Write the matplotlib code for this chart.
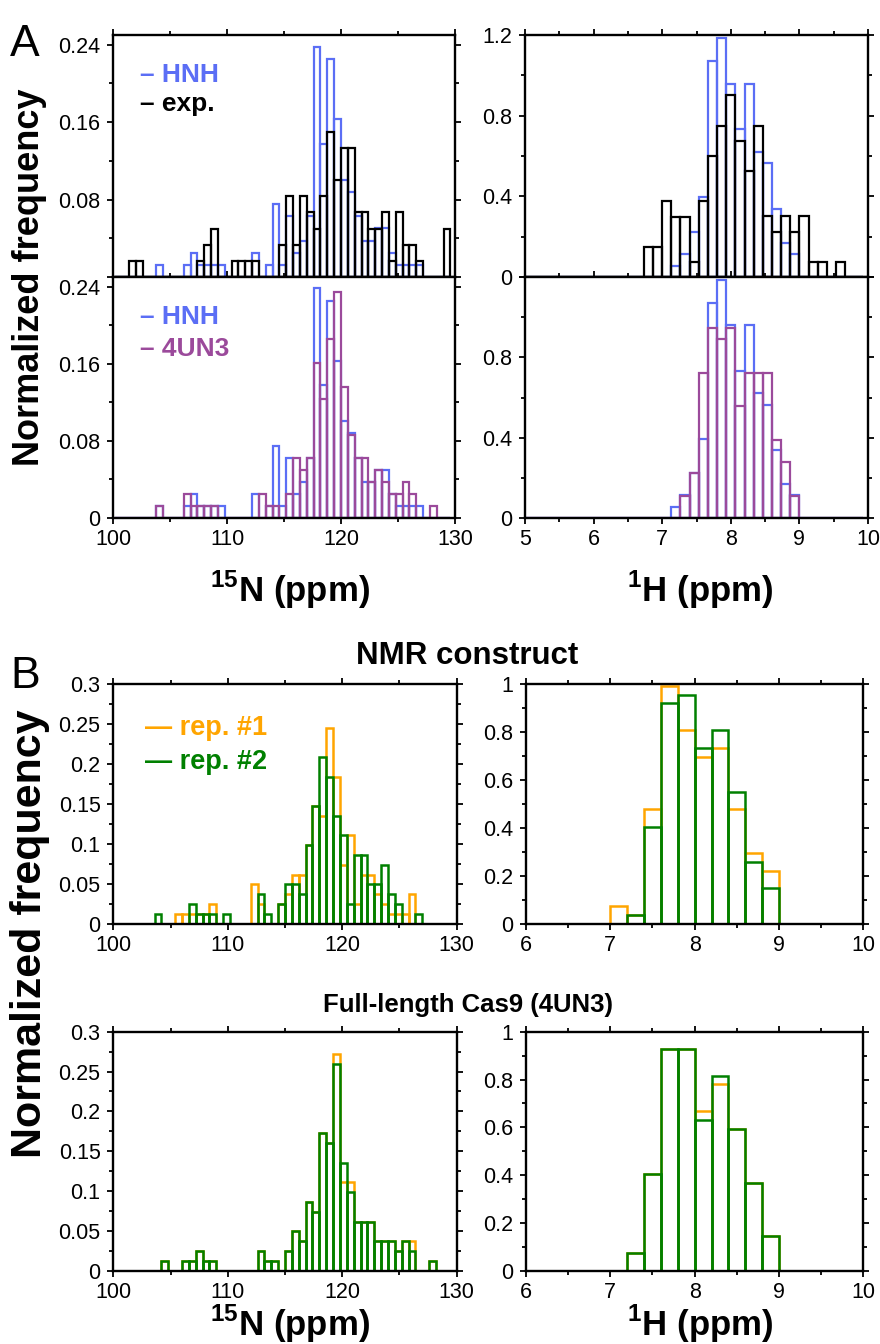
import matplotlib
matplotlib.use("Agg")
import matplotlib.pyplot as plt
from matplotlib.ticker import MultipleLocator, FuncFormatter
import numpy as np

plt.rcParams['font.family'] = ['Liberation Sans', 'DejaVu Sans']
plt.rcParams['mathtext.fontset'] = 'custom'
plt.rcParams['mathtext.rm'] = 'Liberation Sans:bold'
plt.rcParams['mathtext.bf'] = 'Liberation Sans:bold'

# ---- panel A: counts per bin (15N bins of 0.6 ppm from 100.2, 1H bins of 2/15 ppm from 5)
a_n_edges = 100.2 + 0.6 * np.arange(50)
a_h_edges = 5 + np.arange(38) * 2 / 15

hnh_n = [0, 0, 0, 0, 0, 0, 1, 0, 0, 0,
         1, 2, 1, 1, 1, 1, 0, 0, 0, 0,
         2, 0, 1, 6, 1, 5, 2, 3, 5, 19,
         11, 18, 13, 8, 7, 5, 3, 3, 4, 4,
         2, 1, 1, 1, 1, 0, 0, 0, 0]
exp_n = [0, 0, 1, 1, 0, 0, 0, 0, 0, 0,
         0, 0, 1, 2, 3, 0, 0, 1, 1, 1,
         1, 0, 0, 0, 2, 5, 2, 5, 4, 3,
         5, 9, 6, 8, 8, 4, 4, 3, 3, 4,
         1, 4, 2, 2, 1, 0, 0, 0, 3]
un3_n = [0, 0, 0, 0, 0, 0, 1, 0, 0, 0,
         2, 1, 1, 1, 1, 0, 0, 0, 0, 0,
         0, 2, 1, 1, 0, 2, 5, 4, 5, 13,
         10, 15, 19, 11, 7, 5, 5, 3, 4, 3,
         2, 2, 3, 2, 0, 0, 1, 0, 0]

hnh_h = [0, 0, 0, 0, 0, 0, 0, 0, 0, 0, 0, 0, 0, 0, 0, 0,
         1, 2, 4, 7, 19, 21, 17, 13, 17, 11, 10, 6, 3, 2,
         0, 0, 0, 0, 0, 0, 0]
exp_h = [0, 0, 0, 0, 0, 0, 0, 0, 0, 0, 0, 0, 0,
         2, 2, 5, 4, 4, 1, 5, 8, 10, 12, 9, 7, 10, 4, 3, 4, 3, 4, 1, 1, 0, 1,
         0, 0]
un3_h = [0, 0, 0, 0, 0, 0, 0, 0, 0, 0, 0, 0, 0, 0, 0, 0, 0,
         2, 4, 13, 17, 16, 17, 10, 13, 13, 13, 7, 5, 2,
         0, 0, 0, 0, 0, 0, 0]

n_hnh, n_exp, n_un3 = 133, 100, 135

# ---- panel B: two replicas, 15N bins of 0.6 ppm from 100, 1H bins of 0.2 ppm from 6
b_n_edges = 100 + 0.6 * np.arange(51)
b_h_edges = 6 + 0.2 * np.arange(21)

rep1_nmr_n = [0, 0, 0, 0, 0, 0, 0, 0, 0, 1,
              1, 1, 1, 1, 2, 0, 0, 0, 0, 0,
              4, 2, 0, 0, 2, 3, 5, 5, 8, 12,
              11, 20, 15, 6, 9, 2, 5, 5, 3, 2,
              1, 1, 1, 3, 0, 0, 0, 0, 0, 0]
rep2_nmr_n = [0, 0, 0, 0, 0, 0, 1, 0, 0, 0,
              0, 2, 1, 1, 1, 0, 1, 0, 0, 0,
              0, 3, 1, 0, 2, 4, 4, 3, 8, 12,
              17, 15, 11, 9, 2, 7, 7, 4, 4, 6,
              3, 2, 0, 0, 1, 0, 0, 0, 0, 0]
rep1_full_n = [0, 0, 0, 0, 0, 0, 0, 1, 0, 0,
               1, 1, 2, 1, 1, 0, 0, 0, 0, 0,
               0, 2, 1, 1, 0, 2, 4, 3, 7, 6,
               14, 13, 22, 9, 9, 5, 5, 5, 3, 3,
               3, 2, 3, 3, 0, 0, 1, 0, 0, 0]
rep2_full_n = [0, 0, 0, 0, 0, 0, 0, 1, 0, 0,
               1, 1, 2, 1, 1, 0, 0, 0, 0, 0,
               0, 2, 1, 1, 0, 2, 4, 3, 7, 6,
               14, 13, 21, 11, 8, 5, 5, 5, 3, 3,
               3, 2, 3, 2, 0, 0, 1, 0, 0, 0]
n_nmr, n_full = 136, 135

rep1_nmr_h = [0, 0, 0, 0, 0, 0.075, 0.035, 0.476, 0.99, 0.807,
              0.694, 0.732, 0.476, 0.293, 0.22, 0, 0, 0, 0, 0]
rep2_nmr_h = [0, 0, 0, 0, 0, 0, 0.035, 0.403, 0.92, 0.955,
              0.732, 0.807, 0.549, 0.256, 0.148, 0, 0, 0, 0, 0]
rep1_full_h = [0, 0, 0, 0, 0, 0, 0.073, 0.404, 0.926, 0.926,
               0.668, 0.78, 0.593, 0.368, 0.145, 0, 0, 0, 0, 0]
rep2_full_h = [0, 0, 0, 0, 0, 0, 0.073, 0.404, 0.926, 0.926,
               0.63, 0.816, 0.593, 0.368, 0.145, 0, 0, 0, 0, 0]

blue = '#5b6ef5'
purple = '#9b4a9b'
orange = '#ffa500'
green = '#008000'

W, H = 880, 1344


def box(x0, y0, x1, y1):
    # pixel box (top-left origin) -> figure rect
    return [x0 / W, 1 - y1 / H, (x1 - x0) / W, (y1 - y0) / H]


def ftext(x, y, s, **kw):
    fig.text(x / W, 1 - y / H, s, **kw)


def fmt(skip=None):
    def f(v, pos):
        if skip is not None and abs(v - skip) < 1e-9:
            return ''
        return '%g' % round(v, 6)
    return FuncFormatter(f)


def freq(counts, n, edges):
    return np.array(counts) / (n * np.diff(edges))


def hist(ax, edges, heights, color, lw):
    ax.bar(edges[:-1], heights, width=np.diff(edges), align='edge',
           fill=False, edgecolor=color, linewidth=lw)


def style(ax, xlim, xstep, ylim, ystep, xlabels=True, yskip=None):
    ax.set_xlim(*xlim)
    ax.set_ylim(*ylim)
    ax.xaxis.set_major_locator(MultipleLocator(xstep))
    ax.xaxis.set_minor_locator(MultipleLocator(xstep / 2))
    ax.yaxis.set_major_locator(MultipleLocator(ystep))
    ax.yaxis.set_minor_locator(MultipleLocator(ystep / 2))
    ax.xaxis.set_major_formatter(fmt())
    ax.yaxis.set_major_formatter(fmt(yskip))
    ax.tick_params(which='both', direction='out', top=True, right=True,
                   width=1.3, labelsize=15.5)
    ax.tick_params(which='major', length=4.2)
    ax.tick_params(which='minor', length=3.2)
    ax.tick_params(axis='y', pad=5)
    ax.tick_params(axis='x', pad=4, labelbottom=xlabels)
    for s in ax.spines.values():
        s.set_linewidth(1.7)


fig = plt.figure(figsize=(W / 100, H / 100), dpi=100)

# ---------------- A
ax1 = fig.add_axes(box(113, 35, 455, 277))
hist(ax1, a_n_edges, freq(hnh_n, n_hnh, a_n_edges), blue, 1.6)
hist(ax1, a_n_edges, freq(exp_n, n_exp, a_n_edges), 'black', 1.6)
style(ax1, (100, 130), 10, (0, 0.25), 0.08, xlabels=False, yskip=0)

ax2 = fig.add_axes(box(113, 277, 455, 518))
hist(ax2, a_n_edges, freq(hnh_n, n_hnh, a_n_edges), blue, 1.6)
hist(ax2, a_n_edges, freq(un3_n, n_un3, a_n_edges), purple, 1.6)
style(ax2, (100, 130), 10, (0, 0.25), 0.08)

ax3 = fig.add_axes(box(525, 35, 868, 277))
hist(ax3, a_h_edges, freq(hnh_h, n_hnh, a_h_edges), blue, 1.6)
hist(ax3, a_h_edges, freq(exp_h, n_exp, a_h_edges), 'black', 1.6)
style(ax3, (5, 10), 1, (0, 1.2), 0.4, xlabels=False)

ax4 = fig.add_axes(box(525, 277, 868, 518))
hist(ax4, a_h_edges, freq(hnh_h, n_hnh, a_h_edges), blue, 1.6)
hist(ax4, a_h_edges, freq(un3_h, n_un3, a_h_edges), purple, 1.6)
style(ax4, (5, 10), 1, (0, 1.2), 0.4, yskip=1.2)

ftext(140, 82, '– HNH', color=blue, fontsize=19, fontweight='bold')
ftext(140, 111, '– exp.', color='black', fontsize=19, fontweight='bold')
ftext(140, 324, '– HNH', color=blue, fontsize=19, fontweight='bold')
ftext(140, 356, '– 4UN3', color=purple, fontsize=19, fontweight='bold')

# ---------------- B
bx1 = fig.add_axes(box(113.3, 684, 456.7, 923.5))
hist(bx1, b_n_edges, freq(rep1_nmr_n, n_nmr, b_n_edges), orange, 1.8)
hist(bx1, b_n_edges, freq(rep2_nmr_n, n_nmr, b_n_edges), green, 1.8)
style(bx1, (100, 130), 10, (0, 0.3), 0.05)

bx2 = fig.add_axes(box(526, 684, 863.3, 923.5))
hist(bx2, b_h_edges, rep1_nmr_h, orange, 1.8)
hist(bx2, b_h_edges, rep2_nmr_h, green, 1.8)
style(bx2, (6, 10), 1, (0, 1), 0.2)

bx3 = fig.add_axes(box(113.3, 1031.7, 456.7, 1270.7))
hist(bx3, b_n_edges, freq(rep1_full_n, n_full, b_n_edges), orange, 1.8)
hist(bx3, b_n_edges, freq(rep2_full_n, n_full, b_n_edges), green, 1.8)
style(bx3, (100, 130), 10, (0, 0.3), 0.05)

bx4 = fig.add_axes(box(526, 1031.7, 863.3, 1270.7))
hist(bx4, b_h_edges, rep1_full_h, orange, 1.8)
hist(bx4, b_h_edges, rep2_full_h, green, 1.8)
style(bx4, (6, 10), 1, (0, 1), 0.2)

ftext(145, 735, '— rep. #1', color=orange, fontsize=19.5, fontweight='bold')
ftext(145, 769, '— rep. #2', color=green, fontsize=19.5, fontweight='bold')

# ---------------- labels
ftext(10, 56, 'A', fontsize=32)
ftext(10, 688, 'B', fontsize=32)
ftext(30, 277, 'Normalized frequency', rotation=90, fontsize=26, fontweight='bold',
      ha='center', va='center')
ftext(30, 934, 'Normalized frequency', rotation=90, fontsize=31, fontweight='bold',
      ha='center', va='center')
ftext(290, 602, '$^{15}$N (ppm)', fontsize=25, fontweight='bold', ha='center')
ftext(700, 602, '$^{1}$H (ppm)', fontsize=25, fontweight='bold', ha='center')
ftext(290, 1336, '$^{15}$N (ppm)', fontsize=25, fontweight='bold', ha='center')
ftext(700, 1336, '$^{1}$H (ppm)', fontsize=25, fontweight='bold', ha='center')
ftext(467, 664, 'NMR construct', fontsize=22.5, fontweight='bold', ha='center')
ftext(468, 1012, 'Full-length Cas9 (4UN3)', fontsize=18.5, fontweight='bold', ha='center')

fig.savefig('out.png', dpi=100)
